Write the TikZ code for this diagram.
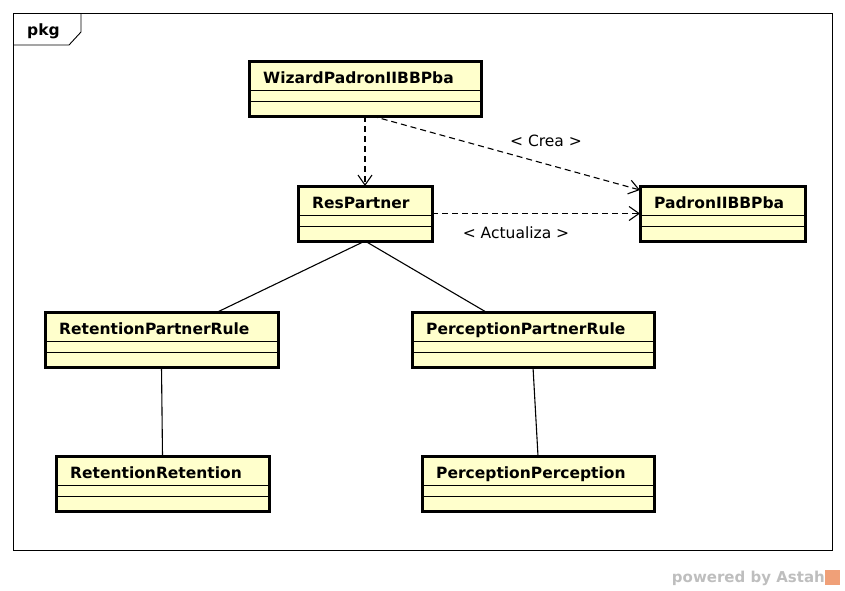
\documentclass[tikz,border=0pt]{standalone}
\usepackage{fontspec}
\setmainfont{DejaVu Sans}
\usetikzlibrary{positioning,calc,arrows.meta}

\definecolor{classyellow}{RGB}{255,255,204}
\definecolor{astahgray}{RGB}{190,190,190}
\definecolor{astahorange}{RGB}{240,160,120}

% class box: name, x, y, width, title
\newcommand{\umlclass}[5]{%
  \node[classbox, minimum width=#4, anchor=north west] (#1) at (#2,#3) {};
  \draw[divider] ($(#1.north west)+(0,29)$) -- ($(#1.north east)+(0,29)$);
  \draw[divider] ($(#1.north west)+(0,40)$) -- ($(#1.north east)+(0,40)$);
  \node[classname, anchor=base west] (#1-name) at ($(#1.north west)+(14,22)$) {#5};
}

\begin{document}
\begin{tikzpicture}[x=1pt,y=-1pt,
    classbox/.style={draw, line width=3pt, fill=classyellow, minimum height=55, inner sep=0pt, outer sep=0pt},
    divider/.style={line width=0.9pt},
    classname/.style={font=\fontsize{15.5}{18}\selectfont\bfseries, inner sep=0pt},
    dep/.style={dash pattern=on 6pt off 4pt, line width=1.1pt, -{Straight Barb[length=10pt,width=14pt]}},
    assoc/.style={line width=1.1pt},
    lbl/.style={font=\fontsize{15.5}{18}\selectfont, inner sep=0pt}]
    \useasboundingbox (0,0) rectangle (845,590);

    % Package frame
    \draw[line width=0.9pt] (13,13) rectangle (832,550);
    \draw[line width=0.9pt] (13,45) -- (69,45) -- (81,32) -- (81,13);
    \node[classname, anchor=base west] (pkg) at (27,35) {pkg};

    % Classes
    \umlclass{wizard}{249}{61}{232}{WizardPadronIIBBPba}
    \umlclass{respartner}{298}{186}{134}{ResPartner}
    \umlclass{padron}{640}{186}{165}{PadronIIBBPba}
    \umlclass{retrule}{45}{312}{233}{RetentionPartnerRule}
    \umlclass{percrule}{412}{312}{242}{PerceptionPartnerRule}
    \umlclass{retret}{56}{456}{213}{RetentionRetention}
    \umlclass{percperc}{422}{456}{232}{PerceptionPerception}

    % Dependencies
    \draw[dep] (wizard.south) -- (respartner.north);
    \draw[dep] ($(wizard.south)+(7,0)$) -- ($(padron.north west)+(0,4)$);
    \draw[dep] (respartner.east) -- (padron.west);
    \node[lbl] (crea) at (546,141) {< Crea >};
    \node[lbl] (actualiza) at (516,233) {< Actualiza >};

    % Associations
    \draw[assoc] (respartner.south) -- ($(retrule.north)+(56,0)$);
    \draw[assoc] (respartner.south) -- ($(percrule.north)+(-47,0)$);
    \draw[assoc] (retrule.south) -- (retret.north);
    \draw[assoc] (percrule.south) -- (percperc.north);

    % Footer
    \node[font=\fontsize{15}{18}\selectfont\bfseries, text=astahgray, anchor=base east, inner sep=0pt] (powered) at (825,582) {powered by Astah};
    \fill[astahorange] (825,570) rectangle (840,585);
\end{tikzpicture}
\end{document}
